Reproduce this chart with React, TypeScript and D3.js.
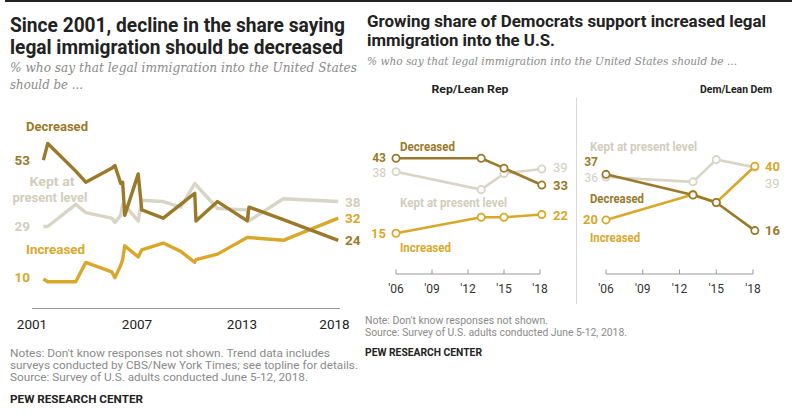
import React from "react";
import * as d3 from "d3";

// ---------- DATA ----------
const leftYears = [2001.65, 2001.9, 2003.5, 2004.07, 2005.55, 2005.74, 2006.07, 2006.18, 2006.3, 2007.07, 2007.27, 2008.5, 2009.5, 2010.3, 2010.37, 2011.6, 2013.3, 2013.4, 2015.36, 2018.5];
const leftDecreased = [53, 59, 49, 45, 50, 51, 44.5, 45, 33, 48, 35, 32, 37, 41, 31, 38, 31, 36, 31.5, 24];
const leftKept = [29, 29, 37, 34, 32, 30.5, 33, 37, 36.5, 31, 38.5, 38, 36, 44.5, 44, 35.5, 35, 31, 39, 38];
const leftIncreased = [10, 9, 9, 16, 12.6, 10.5, 15, 17, 22, 18, 20.5, 23, 20, 16, 17, 19, 25, 25, 24, 32];
const leftTicks = [2001, 2007, 2013, 2018];

const panelYears = [2006, 2013.1, 2015, 2018.15];
const panelTicks = [2006, 2009, 2012, 2015, 2018];
const panelTickLabels = ["'06", "'09", "'12", "'15", "'18"];
const repDecreased = [43, 43, 39.3, 33];
const repKept = [38, 31.3, 37.3, 39];
const repIncreased = [15, 21, 21, 22];
const demDecreased = [37, 29.3, 26.5, 16];
const demKept = [36, 34.2, 42.5, 39.6];
const demIncreased = [20, 29.5, 26.5, 40];

// ---------- STYLE ----------
const DEC = "#9a7a2a";
const INC = "#d9a82b";
const KEPT = "#d8d4c6";
const KEPT_TXT = "#d2cdbd";
const NOTE = "#8a8a8a";
const SANS = "Roboto, 'Liberation Sans', sans-serif";
const SERIF = "'DejaVu Serif', 'Liberation Serif', serif";

type TP = {
  x: number; y: number; w?: number; size: number; weight?: number | string;
  color?: string; anchor?: string; family?: string; italic?: boolean; children: React.ReactNode;
};
const T = ({ x, y, w, size, weight = 400, color = "#222", anchor = "start", family = SANS, italic, children }: TP) => (
  <text
    x={x}
    y={y}
    fontSize={size}
    fontWeight={weight}
    fill={color}
    textAnchor={anchor as any}
    fontFamily={family}
    fontStyle={italic ? "italic" : "normal"}
    {...(w ? { textLength: w, lengthAdjust: "spacingAndGlyphs" } : {})}
  >
    {children}
  </text>
);

export default function App() {
  // Left chart scales
  const xL = d3.scaleLinear().domain([2001, 2018]).range([32, 329.5]);
  const yL = d3.scaleLinear().domain([0, 60]).range([306.7, 140.7]);
  const lineL = (vals: number[]) =>
    d3.line<number>().x((_, i) => xL(leftYears[i])).y((v) => yL(v))(vals) || "";

  // Panels
  const yP = d3.scaleLinear().domain([0, 50]).range([273.5, 139.5]);
  const xR = d3.scaleLinear().domain([2006, 2018]).range([396, 540]);
  const xD = d3.scaleLinear().domain([2006, 2018]).range([606, 753]);
  const lineP = (xs: d3.ScaleLinear<number, number>, vals: number[]) =>
    d3.line<number>().x((_, i) => xs(panelYears[i])).y((v) => yP(v))(vals) || "";

  const lastL = leftYears.length - 1;
  const lastP = panelYears.length - 1;

  const panel = (xs: d3.ScaleLinear<number, number>, dec: number[], kept: number[], inc: number[]) => (
    <g>
      <line x1={xs(2006)} x2={xs(2018)} y1={yP(0) + 0.5} y2={yP(0) + 0.5} stroke="#999" strokeWidth={1} />
      {panelTicks.map((t, i) => (
        <g key={t}>
          <line x1={xs(t)} x2={xs(t)} y1={yP(0) + 0.5} y2={yP(0) - 4} stroke="#999" strokeWidth={1} />
          <T x={xs(t)} y={yP(0) + 19} size={12} anchor="middle" color="#333">{panelTickLabels[i]}</T>
        </g>
      ))}
      {[
        { v: kept, c: KEPT },
        { v: inc, c: INC },
        { v: dec, c: DEC },
      ].map((s, k) => (
        <g key={k}>
          <path d={lineP(xs, s.v)} fill="none" stroke={s.c} strokeWidth={2.6} strokeLinejoin="round" />
          {s.v.map((v, i) => (
            <circle key={i} cx={xs(panelYears[i])} cy={yP(v)} r={3.6} fill="#fff" stroke={s.c} strokeWidth={1.8} />
          ))}
        </g>
      ))}
    </g>
  );

  return (
    <svg
      width={800}
      height={420}
      style={{ position: "absolute", left: 0, top: 0, background: "#fff" }}
    >
      <rect x={0} y={0} width={800} height={420} fill="#fff" />
      <line x1={5} x2={792} y1={1} y2={1} stroke="#222" strokeWidth={2} />

      {/* ---------- LEFT ---------- */}
      <T x={10} y={32} w={335} size={19.5} weight={700}>Since 2001, decline in the share saying</T>
      <T x={10} y={54} w={333} size={19.5} weight={700}>legal immigration should be decreased</T>
      <T x={10} y={72} w={347} size={13} italic family={SERIF} color={NOTE}>% who say that legal immigration into the United States</T>
      <T x={10} y={89} w={73} size={13} italic family={SERIF} color={NOTE}>should be ...</T>

      <line x1={32} x2={340} y1={308.5} y2={308.5} stroke="#9a9a9a" strokeWidth={1} />
      {leftTicks.map((t, i) => (
        <T key={t} x={xL(t) + (i === leftTicks.length - 1 ? 5 : 0)} y={329} size={13.5} anchor="middle" color="#222">{t}</T>
      ))}

      <path d={lineL(leftKept)} fill="none" stroke={KEPT} strokeWidth={3.4} strokeLinejoin="round" />
      <path d={lineL(leftIncreased)} fill="none" stroke={INC} strokeWidth={3.4} strokeLinejoin="round" />
      <path d={lineL(leftDecreased)} fill="none" stroke={DEC} strokeWidth={3.4} strokeLinejoin="round" />

      <T x={26} y={131} w={62} size={13} weight={700} color={DEC}>Decreased</T>
      <T x={52} y={186} w={45} size={13} weight={700} color={KEPT_TXT} anchor="middle">Kept at</T>
      <T x={50} y={202} w={75} size={13} weight={700} color={KEPT_TXT} anchor="middle">present level</T>
      <T x={26} y={254} w={59} size={13} weight={700} color={INC}>Increased</T>

      <T x={30} y={yL(leftDecreased[0]) + 5} size={13.5} weight={700} color={DEC} anchor="end">{leftDecreased[0]}</T>
      <T x={30} y={yL(leftKept[0]) + 5} size={13.5} weight={700} color={KEPT_TXT} anchor="end">{leftKept[0]}</T>
      <T x={30} y={yL(leftIncreased[0]) + 3} size={13.5} weight={700} color={INC} anchor="end">{leftIncreased[0]}</T>
      <T x={345} y={yL(leftKept[lastL]) + 5} size={13.5} weight={700} color={KEPT_TXT}>{leftKept[lastL]}</T>
      <T x={345} y={yL(leftIncreased[lastL]) + 5} size={13.5} weight={700} color={INC}>{leftIncreased[lastL]}</T>
      <T x={345} y={yL(leftDecreased[lastL]) + 5} size={13.5} weight={700} color={DEC}>{leftDecreased[lastL]}</T>

      <T x={10} y={357} w={320} size={11} color={NOTE}>Notes: Don't know responses not shown. Trend data includes</T>
      <T x={10} y={369} w={348} size={11} color={NOTE}>surveys conducted by CBS/New York Times; see topline for details.</T>
      <T x={10} y={381} w={298} size={11} color={NOTE}>Source: Survey of U.S. adults conducted June 5-12, 2018.</T>
      <T x={10} y={403} w={133} size={10.5} weight={700} color="#222">PEW RESEARCH CENTER</T>

      {/* ---------- RIGHT ---------- */}
      <T x={367} y={27} w={399} size={16.5} weight={700}>Growing share of Democrats support increased legal</T>
      <T x={367} y={46} w={188} size={16.5} weight={700}>immigration into the U.S.</T>
      <T x={367} y={65} w={370} size={11.5} italic family={SERIF} color={NOTE}>% who say that legal immigration into the United States should be ...</T>

      <T x={470} y={93} w={77} size={11} weight={700} anchor="middle">Rep/Lean Rep</T>
      <T x={736} y={93} w={72} size={11} weight={700} anchor="middle">Dem/Lean Dem</T>
      <line x1={576.5} x2={576.5} y1={98} y2={304} stroke="#d8d8d8" strokeWidth={1} />

      {panel(xR, repDecreased, repKept, repIncreased)}
      {panel(xD, demDecreased, demKept, demIncreased)}

      {/* Rep labels */}
      <T x={400} y={151} w={55} size={12} weight={700} color={DEC}>Decreased</T>
      <T x={400} y={207} w={107} size={12} weight={700} color={KEPT_TXT}>Kept at present level</T>
      <T x={400} y={252} w={51} size={12} weight={700} color={INC}>Increased</T>
      <T x={386} y={yP(repDecreased[0]) + 3.5} size={12} weight={700} color={DEC} anchor="end">{repDecreased[0]}</T>
      <T x={386} y={yP(repKept[0]) + 5.5} size={12} color={KEPT_TXT} anchor="end">{repKept[0]}</T>
      <T x={386} y={yP(repIncreased[0]) + 4.5} size={13} weight={700} color={INC} anchor="end">{repIncreased[0]}</T>
      <T x={553} y={yP(repKept[lastP]) + 3} size={13} color={KEPT_TXT}>{repKept[lastP]}</T>
      <T x={553} y={yP(repDecreased[lastP]) + 5} size={13} weight={700} color={DEC}>{repDecreased[lastP]}</T>
      <T x={553} y={yP(repIncreased[lastP]) + 5} size={13} weight={700} color={INC}>{repIncreased[lastP]}</T>

      {/* Dem labels */}
      <T x={590} y={151} w={107} size={12} weight={700} color={KEPT_TXT}>Kept at present level</T>
      <T x={590} y={203} w={54} size={12} weight={700} color={DEC}>Decreased</T>
      <T x={590} y={242} w={50} size={12} weight={700} color={INC}>Increased</T>
      <T x={598} y={166} size={12} weight={700} color={DEC} anchor="end">{demDecreased[0]}</T>
      <T x={598} y={182} size={12} color={KEPT_TXT} anchor="end">{demKept[0]}</T>
      <T x={598} y={yP(demIncreased[0]) + 4.5} size={13} weight={700} color={INC} anchor="end">{demIncreased[0]}</T>
      <T x={765} y={yP(demIncreased[lastP]) + 4.5} size={13} weight={700} color={INC}>{demIncreased[lastP]}</T>
      <T x={765} y={188} size={13} color={KEPT_TXT}>39</T>
      <T x={765} y={yP(demDecreased[lastP]) + 4.5} size={13} weight={700} color={DEC}>{demDecreased[lastP]}</T>

      <T x={365} y={324} w={183} size={10.5} color={NOTE}>Note: Don't know responses not shown.</T>
      <T x={365} y={336} w={262} size={10.5} color={NOTE}>Source: Survey of U.S. adults conducted June 5-12, 2018.</T>
      <T x={365} y={356} w={117} size={10} weight={700} color="#222">PEW RESEARCH CENTER</T>
    </svg>
  );
}
